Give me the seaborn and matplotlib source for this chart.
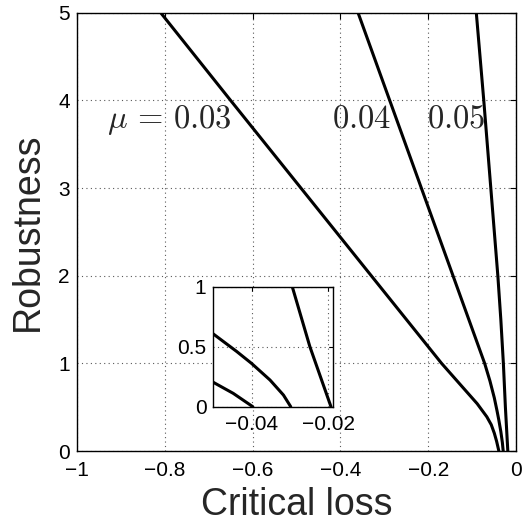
import numpy as np
import pandas as pd
import matplotlib
matplotlib.use("Agg")
import matplotlib.pyplot as plt
import seaborn as sns

# ---- data ----
mu_labels = ["0.03", "0.04", "0.05"]
rob_003 = [0.0, 0.111, 0.203, 0.30, 0.39, 0.54, 0.75, 1.0, 2.0, 3.0, 4.0, 5.0]
loss_003 = [-0.0397, -0.0448, -0.05, -0.057, -0.067, -0.089, -0.126, -0.17, -0.33, -0.49, -0.65, -0.809]
rob_004 = [0.0, 0.097, 0.222, 0.36, 0.46, 0.606, 0.8, 1.0, 1.5, 2.0, 3.0, 4.0, 5.0]
loss_004 = [-0.0298, -0.0317, -0.0352, -0.04, -0.0439, -0.05, -0.06, -0.072, -0.108, -0.144, -0.216, -0.288, -0.36]
rob_005 = [0.0, 0.5, 1.0, 1.5, 2.0, 3.0, 4.0, 5.0]
loss_005 = [-0.0193, -0.0248, -0.0294, -0.0352, -0.042, -0.058, -0.074, -0.091]

x_ticks = [-1, -0.8, -0.6, -0.4, -0.2, 0]
x_ticklabels = ["\u22121", "\u22120.8", "\u22120.6", "\u22120.4", "\u22120.2", "0"]
y_ticks = [0, 1, 2, 3, 4, 5]
inset_xticks = [-0.04, -0.02]
inset_xticklabels = ["\u22120.04", "\u22120.02"]
inset_yticks = [0, 0.5, 1]
inset_yticklabels = ["0", "0.5", "1"]

frames = []
for mu, r, l in [(mu_labels[0], rob_003, loss_003),
                 (mu_labels[1], rob_004, loss_004),
                 (mu_labels[2], rob_005, loss_005)]:
    frames.append(pd.DataFrame({"mu": mu, "robustness": r, "loss": l}))
df = pd.concat(frames, ignore_index=True)

sns.set_style("white")
plt.rcParams["font.family"] = ["Liberation Sans", "DejaVu Sans"]
plt.rcParams["mathtext.fontset"] = "cm"

fig = plt.figure(figsize=(5.24, 5.27), dpi=100)
ax = fig.add_axes([0.1464, 0.1442, 0.8389, 0.8317])

palette = {m: "black" for m in mu_labels}
sns.lineplot(data=df, x="loss", y="robustness", hue="mu", units="mu",
             estimator=None, sort=False, palette=palette, legend=False,
             linewidth=2.2, ax=ax)

ax.set_xlim(-1, 0)
ax.set_ylim(0, 5)
ax.set_xticks(x_ticks)
ax.set_xticklabels(x_ticklabels)
ax.set_yticks(y_ticks)
ax.grid(True, linestyle=(0, (1, 3)), color="0.35", linewidth=0.8)
ax.tick_params(direction="in", length=4, width=0.8, top=True, right=True,
               labelsize=15, pad=7, colors="black")
ax.tick_params(axis="y", pad=5)
for s in ax.spines.values():
    s.set_visible(True)
    s.set_color("black")
    s.set_linewidth(1.0)
ax.set_xlabel("Critical loss", fontsize=27, labelpad=5)
ax.set_ylabel("Robustness", fontsize=27, labelpad=9)

ax.text(-0.930, 3.69, r"$\mu\,=\,0.03$", fontsize=23.5, ha="left", va="baseline")
ax.text(-0.419, 3.69, r"$0.04$", fontsize=23.5, ha="left", va="baseline")
ax.text(-0.203, 3.69, r"$0.05$", fontsize=23.5, ha="left", va="baseline")

# ---- inset ----
axin = fig.add_axes([0.4071, 0.2283, 0.2289, 0.2277])
axin.set_facecolor("white")
sns.lineplot(data=df, x="loss", y="robustness", hue="mu", units="mu",
             estimator=None, sort=False, palette=palette, legend=False,
             linewidth=2.2, ax=axin)
axin.set_xlim(-0.05, -0.0187)
axin.set_ylim(0, 1)
axin.set_xticks(inset_xticks)
axin.set_xticklabels(inset_xticklabels)
axin.set_yticks(inset_yticks)
axin.set_yticklabels(inset_yticklabels)
axin.grid(True, linestyle=(0, (1, 3)), color="0.35", linewidth=0.8)
axin.tick_params(direction="in", length=3, width=0.8, top=True, right=True,
                 labelsize=15, pad=6, colors="black")
axin.tick_params(axis="y", pad=5)
for s in axin.spines.values():
    s.set_visible(True)
    s.set_color("black")
    s.set_linewidth(1.0)
axin.set_xlabel("")
axin.set_ylabel("")

fig.savefig("out.png", dpi=100)
